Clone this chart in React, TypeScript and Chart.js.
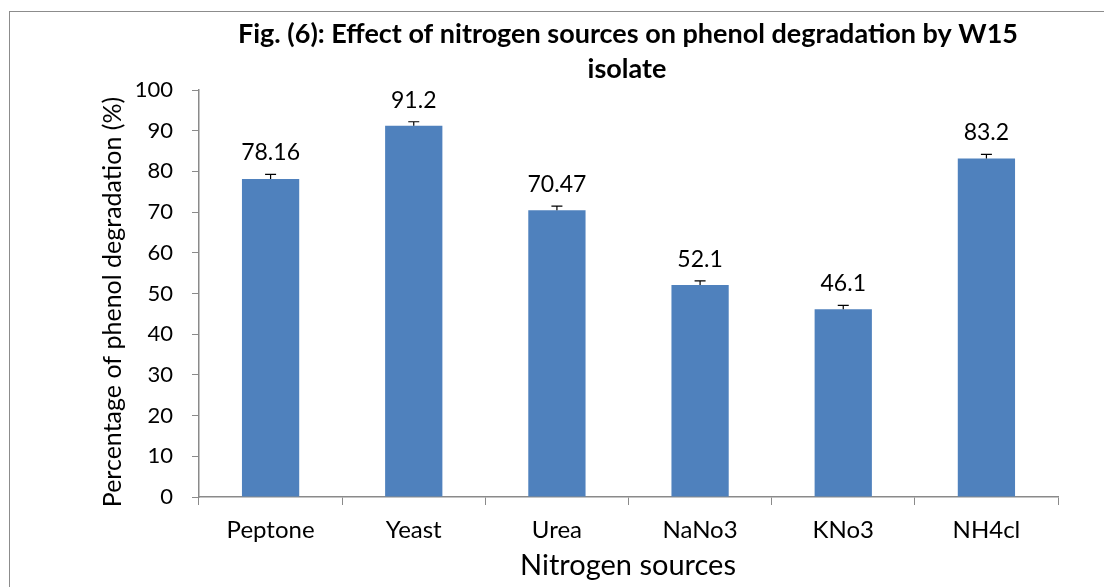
import React, { useEffect, useRef } from "react";
import { Chart, registerables } from "chart.js";

Chart.register(...registerables);

const categories = ["Peptone", "Yeast", "Urea", "NaNo3", "KNo3", "NH4cl"];
const degradation = [78.16, 91.2, 70.47, 52.1, 46.1, 83.2];
const errorValues = [1.1, 1.0, 1.0, 1.0, 1.0, 1.0];
const valueLabels = ["78.16", "91.2", "70.47", "52.1", "46.1", "83.2"];
const titleLines = ["Fig. (6): Effect of nitrogen sources on phenol degradation by W15", "isolate"];
const yAxisTitle = "Percentage of phenol degradation (%)";
const xAxisTitle = "Nitrogen sources";
const yMin = 0;
const yMax = 100;
const yStep = 10;

const FONT = "Lato, 'Open Sans', sans-serif";
const AXIS_GRAY = "#8a8a8a";
const BAR_BLUE = "#4F81BD";

const annotationPlugin = {
  id: "figAnnotations",
  afterDatasetsDraw(chart: any) {
    const ctx = chart.ctx;
    const yScale = chart.scales.y;
    const meta = chart.getDatasetMeta(0);
    ctx.save();
    meta.data.forEach((bar: any, i: number) => {
      const x = bar.x;
      const yVal = yScale.getPixelForValue(degradation[i]);
      const yErr = yScale.getPixelForValue(degradation[i] + errorValues[i]);
      ctx.strokeStyle = "#000";
      ctx.lineWidth = 1.2;
      ctx.beginPath();
      ctx.moveTo(x, yVal);
      ctx.lineTo(x, yErr);
      ctx.moveTo(x - 5.5, yErr);
      ctx.lineTo(x + 5.5, yErr);
      ctx.stroke();
      ctx.fillStyle = "#000";
      ctx.font = `23px ${FONT}`;
      ctx.textAlign = "center";
      ctx.textBaseline = "alphabetic";
      ctx.fillText(valueLabels[i], x, yErr - 14);
    });
    ctx.restore();
  },
  afterDraw(chart: any) {
    const ctx = chart.ctx;
    ctx.save();
    ctx.fillStyle = "#000";
    ctx.textAlign = "center";
    ctx.textBaseline = "alphabetic";
    ctx.font = `bold 27px ${FONT}`;
    ctx.fillText(titleLines[0], 628, 43);
    ctx.fillText(titleLines[1], 627, 78);

    ctx.font = `29px ${FONT}`;
    ctx.fillText(xAxisTitle, 628, 575);

    ctx.translate(121, 302);
    ctx.rotate(-Math.PI / 2);
    ctx.font = `25px ${FONT}`;
    ctx.fillText(yAxisTitle, 0, 0);
    ctx.restore();
  },
};

export default function App() {
  const canvasRef = useRef<HTMLCanvasElement | null>(null);

  useEffect(() => {
    if (!canvasRef.current) return;
    const chart = new Chart(canvasRef.current, {
      type: "bar",
      data: {
        labels: categories,
        datasets: [
          {
            data: degradation,
            backgroundColor: BAR_BLUE,
            borderWidth: 0,
            barPercentage: 0.4,
            categoryPercentage: 1.0,
          },
        ],
      },
      options: {
        responsive: false,
        animation: false,
        devicePixelRatio: 1,
        layout: { padding: { left: 0, top: 90, right: 46, bottom: 0 } },
        plugins: {
          legend: { display: false },
          title: { display: false },
          tooltip: { enabled: false },
        },
        scales: {
          x: {
            grid: {
              display: true,
              drawOnChartArea: false,
              drawTicks: true,
              tickLength: 8,
              color: AXIS_GRAY,
              offset: true,
            },
            border: { display: true, color: AXIS_GRAY, width: 1.5 },
            ticks: {
              color: "#000",
              font: { family: FONT, size: 24 },
              padding: 11,
            },
            afterFit(scale: any) {
              scale.height = 90;
            },
          },
          y: {
            min: yMin,
            max: yMax,
            grid: {
              display: true,
              drawOnChartArea: false,
              drawTicks: true,
              tickLength: 7,
              color: AXIS_GRAY,
            },
            border: { display: true, color: AXIS_GRAY, width: 1.5 },
            ticks: {
              stepSize: yStep,
              color: "#000",
              font: { family: FONT, size: 22 },
              padding: 19,
            },
            afterFit(scale: any) {
              scale.width = 199;
            },
          },
        },
      },
      plugins: [annotationPlugin],
    });
    return () => chart.destroy();
  }, []);

  return (
    <div
      style={{
        position: "fixed",
        left: 0,
        top: 0,
        width: 1104,
        height: 587,
        overflow: "hidden",
        background: "#fff",
      }}
    >
      <div
        style={{
          position: "absolute",
          left: 9,
          top: 11,
          width: 1200,
          height: 700,
          border: "1px solid #8c8c8c",
        }}
      />
      <canvas
        ref={canvasRef}
        width={1104}
        height={587}
        style={{ position: "absolute", left: 0, top: 0, display: "block" }}
      />
    </div>
  );
}
